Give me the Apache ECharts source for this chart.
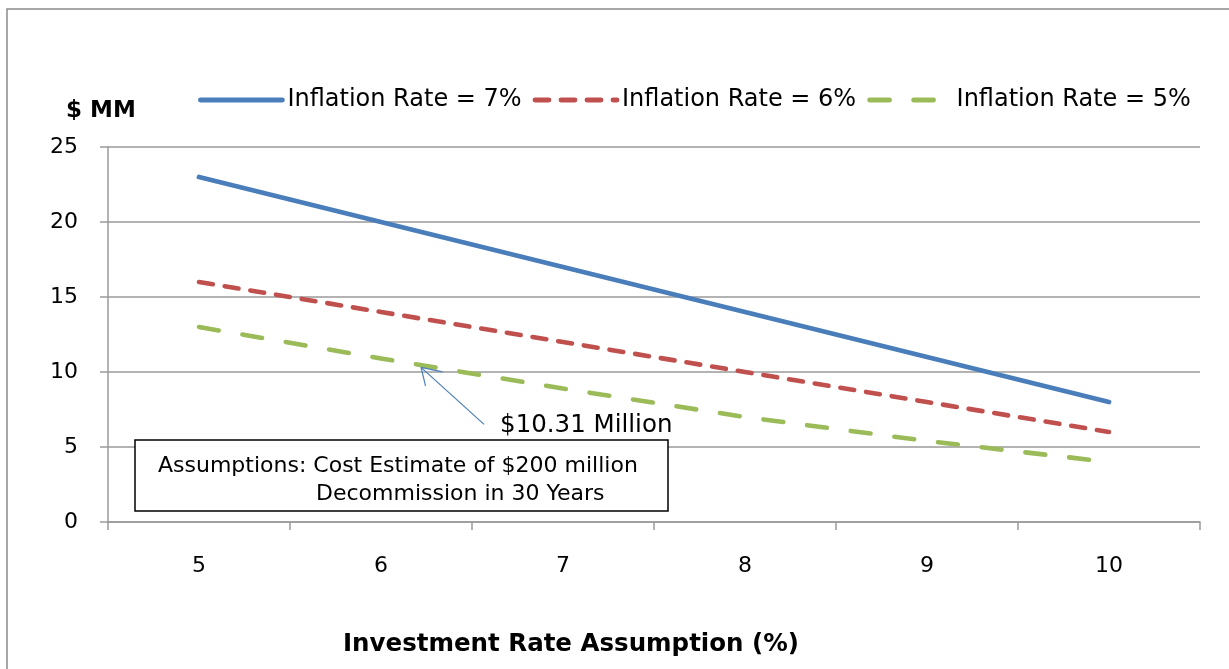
<!DOCTYPE html>
<html>
<head>
<meta charset="utf-8">
<script src="https://cdn.jsdelivr.net/npm/echarts@6/dist/echarts.min.js"></script>
<style>
html,body{margin:0;padding:0;background:#fff;}
#chart{width:1229px;height:669px;}
</style>
</head>
<body>
<div id="chart"></div>
<script>
const categories = ['5', '6', '7', '8', '9', '10'];
const infl7 = [23, 20, 17, 14, 11, 8];
const infl6 = [16, 14, 12, 10, 8, 6];
const infl5 = [13.0, 10.9, 8.9, 7.0, 5.4, 4.0];
const seriesNames = ['Inflation Rate = 7%', 'Inflation Rate = 6%', 'Inflation Rate = 5%'];
const yMin = 0, yMax = 25, yInterval = 5;
const annotValue = 10.31;
const annotIndex = 1.22;
const annotLabel = '$10.31 Million';
const noteLines = ['Assumptions: Cost Estimate of $200 million', 'Decommission in 30 Years'];
const yName = '$ MM';
const xName = 'Investment Rate Assumption (%)';

const FONT = 'DejaVu Sans';
const chart = echarts.init(document.getElementById('chart'), null, {renderer: 'canvas'});

const option = {
  animation: false,
  backgroundColor: '#fff',
  textStyle: {fontFamily: FONT, color: '#000'},
  grid: {left: 108, right: 29, top: 147, bottom: 147, containLabel: false},
  legend: {
    data: seriesNames,
    left: 193, top: 83,
    itemWidth: 82, itemHeight: 14, itemGap: 11,
    itemStyle: {opacity: 0},
    lineStyle: {width: 4.8, cap: 'round'},
    textStyle: {fontFamily: FONT, fontSize: 24, color: '#000'}
  },
  xAxis: {
    type: 'category',
    data: categories,
    boundaryGap: true,
    axisLine: {show: true, lineStyle: {color: '#9a9a9a', width: 1.5}},
    axisTick: {show: true, length: 8, alignWithLabel: false, lineStyle: {color: '#9a9a9a', width: 1.5}},
    axisLabel: {fontFamily: FONT, fontSize: 22, color: '#000', margin: 33},
    name: xName,
    nameLocation: 'middle',
    nameGap: 110,
    nameTextStyle: {fontFamily: FONT, fontSize: 24.5, fontWeight: 'bold', color: '#000', padding: [0, 166, 0, 0]}
  },
  yAxis: {
    type: 'value',
    min: yMin, max: yMax, interval: yInterval,
    axisLine: {show: true, lineStyle: {color: '#9a9a9a', width: 1.5}},
    axisTick: {show: true, length: 8, lineStyle: {color: '#9a9a9a', width: 1.5}},
    splitLine: {show: true, lineStyle: {color: '#9a9a9a', width: 1.5}},
    axisLabel: {fontFamily: FONT, fontSize: 22, color: '#000', margin: 30},
    name: yName,
    nameLocation: 'end',
    nameGap: 36,
    nameTextStyle: {fontFamily: FONT, fontSize: 23, fontWeight: 'bold', color: '#000', align: 'center', verticalAlign: 'middle', padding: [0, 14, 0, 0]}
  },
  series: [
    {name: seriesNames[0], type: 'line', data: infl7, symbol: 'none', z: 5,
     lineStyle: {color: '#4a7ebb', width: 4.8, cap: 'round'}, itemStyle: {color: '#4a7ebb'}},
    {name: seriesNames[1], type: 'line', data: infl6, symbol: 'none', z: 4,
     lineStyle: {color: '#c0504d', width: 4.6, cap: 'round', type: [14, 12]}, itemStyle: {color: '#c0504d'}},
    {name: seriesNames[2], type: 'line', data: infl5, symbol: 'none', z: 3,
     lineStyle: {color: '#9bbb59', width: 4.6, cap: 'round', type: [20, 24]}, itemStyle: {color: '#9bbb59'}}
  ]
};
chart.setOption(option);

// annotation arrow computed from axis scales
const i0 = Math.floor(annotIndex);
const xa = chart.convertToPixel({xAxisIndex: 0}, categories[i0]);
const xb = chart.convertToPixel({xAxisIndex: 0}, categories[i0 + 1]);
const tipX = xa + (xb - xa) * (annotIndex - i0);
const tipY = chart.convertToPixel({yAxisIndex: 0}, annotValue);
const tailX = tipX + 63, tailY = tipY + 57;
const arrowStyle = {stroke: '#4a7ebb', lineWidth: 1.2};

chart.setOption({
  graphic: [
    {type: 'rect', z: 0, silent: true, shape: {x: 7, y: 9, width: 1300, height: 800},
     style: {fill: 'none', stroke: '#8a8a8a', lineWidth: 1.5}},
    {type: 'line', z: 100, shape: {x1: tailX, y1: tailY, x2: tipX, y2: tipY}, style: arrowStyle},
    {type: 'line', z: 100, shape: {x1: tipX, y1: tipY, x2: tipX + 4.5, y2: tipY + 18.5}, style: arrowStyle},
    {type: 'line', z: 100, shape: {x1: tipX, y1: tipY, x2: tipX + 21.5, y2: tipY + 4.5}, style: arrowStyle},
    {type: 'text', z: 100, x: tailX + 16, y: tailY + 1,
     style: {text: annotLabel, font: '24.5px "' + FONT + '"', fill: '#000', textAlign: 'left', textVerticalAlign: 'middle'}},
    {type: 'rect', z: 100, shape: {x: 135, y: 440, width: 533, height: 71},
     style: {fill: '#fff', stroke: '#000', lineWidth: 1.5}},
    {type: 'text', z: 101, x: 158, y: 466,
     style: {text: noteLines[0], font: '22px "' + FONT + '"', fill: '#000', textAlign: 'left', textVerticalAlign: 'middle'}},
    {type: 'text', z: 101, x: 316, y: 494,
     style: {text: noteLines[1], font: '22px "' + FONT + '"', fill: '#000', textAlign: 'left', textVerticalAlign: 'middle'}}
  ]
});
</script>
</body>
</html>
